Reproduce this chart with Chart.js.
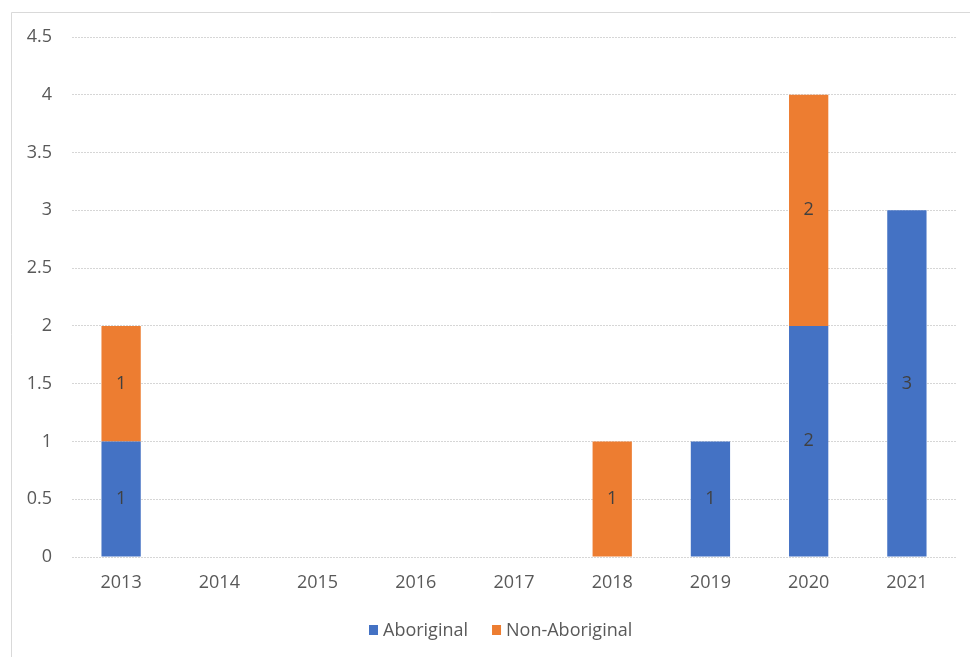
<!DOCTYPE html>
<html>
<head>
<meta charset="utf-8">
<script src="https://cdn.jsdelivr.net/npm/chart.js@4"></script>
<style>
html,body{margin:0;padding:0;background:#fff;}
#wrap{width:970px;height:657px;position:relative;}
</style>
</head>
<body>
<div id="wrap"><canvas id="c" width="970" height="657"></canvas></div>
<script>
const categories = ['2013','2014','2015','2016','2017','2018','2019','2020','2021'];
const aboriginal = [1,0,0,0,0,0,1,2,3];
const nonAboriginal = [1,0,0,0,0,1,0,2,0];
const seriesNames = ['Aboriginal','Non-Aboriginal'];

const FONT = "'Open Sans', sans-serif";

const borderPlugin = {
  id: 'frame',
  beforeDraw(chart) {
    const ctx = chart.ctx;
    ctx.save();
    ctx.fillStyle = '#ffffff';
    ctx.fillRect(0,0,chart.width,chart.height);
    ctx.strokeStyle = '#d9d9d9';
    ctx.lineWidth = 1;
    ctx.beginPath();
    ctx.moveTo(11.5, chart.height);
    ctx.lineTo(11.5, 12.5);
    ctx.lineTo(chart.width, 12.5);
    ctx.stroke();
    ctx.restore();
  }
};

const labelPlugin = {
  id: 'barLabels',
  afterDatasetsDraw(chart) {
    const ctx = chart.ctx;
    ctx.save();
    ctx.font = "18px " + FONT;
    ctx.fillStyle = '#404040';
    ctx.textAlign = 'center';
    ctx.textBaseline = 'middle';
    chart.data.datasets.forEach((ds, di) => {
      const meta = chart.getDatasetMeta(di);
      meta.data.forEach((bar, i) => {
        const v = ds.data[i];
        if (!v) return;
        const p = bar.getProps(['x','y','base'], true);
        ctx.fillText(String(v), p.x, (p.y + p.base) / 2);
      });
    });
    ctx.restore();
  }
};

// Excel-style legend: small square, tight gap, centred on the frame
const legendPlugin = {
  id: 'xlLegend',
  afterDraw(chart) {
    const ctx = chart.ctx;
    ctx.save();
    ctx.font = "18px " + FONT;
    ctx.textBaseline = 'middle';
    ctx.textAlign = 'left';
    const box = 9, gap = 5, spacing = 24;
    const items = chart.data.datasets.map(ds => ({
      label: ds.label, color: ds.backgroundColor, w: ctx.measureText(ds.label).width
    }));
    const total = items.reduce((a, it) => a + box + gap + it.w, 0) + spacing * (items.length - 1);
    let x = Math.round(501 - total / 2);
    const cy = 631;
    items.forEach(it => {
      ctx.fillStyle = it.color;
      ctx.fillRect(x, cy - 6, box, box + 1);
      x += box + gap;
      ctx.fillStyle = '#595959';
      ctx.fillText(it.label, x, cy);
      x += it.w + spacing;
    });
    ctx.restore();
  }
};

new Chart(document.getElementById('c'), {
  type: 'bar',
  data: {
    labels: categories,
    datasets: [
      { label: seriesNames[0], data: aboriginal, backgroundColor: '#4472C4', categoryPercentage: 1, barPercentage: 0.4 },
      { label: seriesNames[1], data: nonAboriginal, backgroundColor: '#ED7D31', categoryPercentage: 1, barPercentage: 0.4 }
    ]
  },
  options: {
    responsive: false,
    animation: false,
    devicePixelRatio: 1,
    layout: { padding: { top: 37, left: 12, right: 14, bottom: 60 } },
    plugins: {
      tooltip: { enabled: false },
      legend: { display: false }
    },
    scales: {
      x: {
        stacked: true,
        grid: { display: false, drawTicks: false },
        border: { display: false },
        ticks: { font: { family: FONT, size: 18 }, color: '#595959', padding: 15 },
        afterFit(s) { s.height = 40; }
      },
      y: {
        stacked: true,
        min: 0,
        max: 4.5,
        grid: { color: '#d6d6d6', drawTicks: false },
        border: { display: false, dash: [2,1] },
        ticks: {
          stepSize: 0.5,
          font: { family: FONT, size: 18 },
          color: '#595959',
          padding: 20,
          callback: (v) => String(+v)
        },
        afterFit(s) { s.width = 60; }
      }
    }
  },
  plugins: [borderPlugin, labelPlugin, legendPlugin]
});
</script>
</body>
</html>
